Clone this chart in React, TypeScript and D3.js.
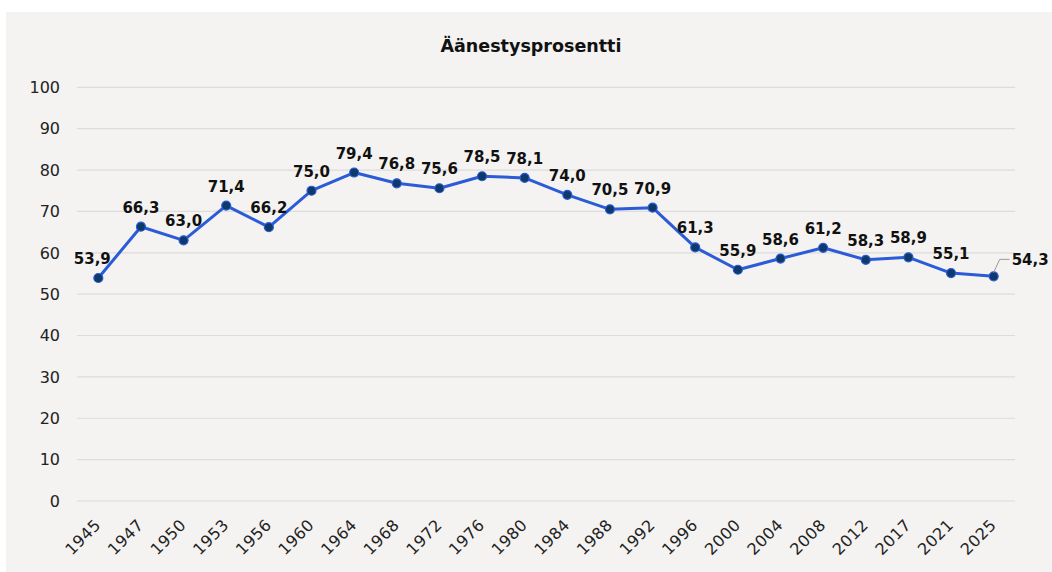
import React from "react";
import * as d3 from "d3";

const years = ["1945","1947","1950","1953","1956","1960","1964","1968","1972","1976","1980","1984","1988","1992","1996","2000","2004","2008","2012","2017","2021","2025"];
const turnout = [53.9,66.3,63.0,71.4,66.2,75.0,79.4,76.8,75.6,78.5,78.1,74.0,70.5,70.9,61.3,55.9,58.6,61.2,58.3,58.9,55.1,54.3];
const yTicks = [0,10,20,30,40,50,60,70,80,90,100];
const title = "Äänestysprosentti";

const W = 1052, H = 572;
const plot = { left: 77, right: 1015, top: 87.3, bottom: 501 };
const FONT = "'DejaVu Sans', sans-serif";

export default function App() {
  const x = d3.scaleBand<string>().domain(years).range([plot.left, plot.right]);
  const y = d3.scaleLinear().domain([0, 100]).range([plot.bottom, plot.top]);
  const cx = (d: string) => (x(d) as number) + x.bandwidth() / 2;
  const line = d3.line<number>().x((_, i) => cx(years[i])).y((v) => y(v));
  const fmt = (v: number) => v.toFixed(1).replace(".", ",");
  const last = turnout.length - 1;

  return (
    <svg width={W} height={H} style={{ position: "absolute", left: 0, top: 0 }} fontFamily={FONT}>
      <rect x={6} y={12} width={W - 6} height={H - 12} fill="#f4f3f1" />
      <text x={531} y={52} textAnchor="middle" fontSize={17.5} fontWeight={700} fill="#111">{title}</text>
      {yTicks.map((t) => (
        <g key={t}>
          <line x1={plot.left} x2={plot.right} y1={y(t)} y2={y(t)} stroke="#dcdcdc" strokeWidth={1.2} />
          <text x={60} y={y(t)} dy="0.36em" textAnchor="end" fontSize={16} fill="#222">{t}</text>
        </g>
      ))}
      {years.map((yr) => (
        <text key={yr} transform={`translate(${cx(yr) + 3.5},${526}) rotate(-45)`} textAnchor="end" fontSize={16} letterSpacing={0.4} fill="#222">{yr}</text>
      ))}
      <path d={line(turnout) || ""} fill="none" stroke="#2b5bd7" strokeWidth={3} strokeLinejoin="round" />
      {turnout.map((v, i) => (
        <circle key={i} cx={cx(years[i])} cy={y(v)} r={4.5} fill="#0d3a6a" stroke="#2b5bd7" strokeWidth={1.2} />
      ))}
      {turnout.map((v, i) =>
        i === last ? null : (
          <text key={i} x={cx(years[i]) + (i === 0 ? -6 : 0)} y={y(v) - 14} textAnchor="middle" fontSize={15} fontWeight={700} fill="#111">{fmt(v)}</text>
        )
      )}
      <polyline
        points={`${cx(years[last])},${y(turnout[last]) - 4} ${cx(years[last]) + 6},${y(turnout[last]) - 17} ${cx(years[last]) + 16},${y(turnout[last]) - 17}`}
        fill="none" stroke="#999" strokeWidth={1}
      />
      <text x={cx(years[last]) + 18} y={y(turnout[last]) - 11} fontSize={15} fontWeight={700} fill="#111">{fmt(turnout[last])}</text>
    </svg>
  );
}
